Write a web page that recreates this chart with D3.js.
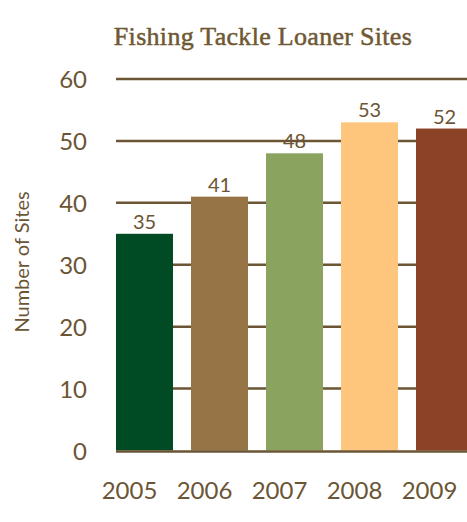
<!DOCTYPE html>
<html>
<head>
<meta charset="utf-8">
<script src="https://cdn.jsdelivr.net/npm/d3@7"></script>
<style>
  body { margin: 0; background: #fff; }
  text { fill: #6b5535; }
</style>
</head>
<body>
<div id="chart"></div>
<script>
// Data
const years = ['2005', '2006', '2007', '2008', '2009'];
const sites = [35, 41, 48, 53, 52];
const barColors = ['#004b23', '#967446', '#8aa45f', '#fec67c', '#8b4226'];
const yTicks = [0, 10, 20, 30, 40, 50, 60];

const W = 467, H = 522;
const ink = '#6b5535';

const svg = d3.select('#chart')
  .append('svg')
  .attr('width', W)
  .attr('height', H);

// Scales
const x = d3.scaleBand()
  .domain(years)
  .range([116, 473])
  .paddingInner(0.24)
  .paddingOuter(0);

const y = d3.scaleLinear()
  .domain([0, 60])
  .range([450.5, 79]);

// Title
svg.append('text')
  .attr('x', 263)
  .attr('y', 45)
  .attr('text-anchor', 'middle')
  .style('font-family', '"Liberation Serif", serif')
  .style('font-size', '26px')
  .style('fill', '#6f5833')
  .style('stroke', '#6f5833')
  .style('stroke-width', 0.5)
  .style('letter-spacing', '0.3px')
  .text('Fishing Tackle Loaner Sites');

// Gridlines
svg.append('g')
  .selectAll('line')
  .data(yTicks.filter(d => d > 0))
  .enter()
  .append('line')
  .attr('x1', 116)
  .attr('x2', W)
  .attr('y1', d => y(d))
  .attr('y2', d => y(d))
  .attr('stroke', ink)
  .attr('stroke-width', 2.5);

// Bars
svg.append('g')
  .selectAll('rect')
  .data(sites)
  .enter()
  .append('rect')
  .attr('x', (d, i) => x(years[i]))
  .attr('y', d => y(d))
  .attr('width', x.bandwidth())
  .attr('height', d => y(0) - y(d))
  .attr('fill', (d, i) => barColors[i]);

// Baseline
svg.append('line')
  .attr('x1', 116)
  .attr('x2', W)
  .attr('y1', y(0) + 1)
  .attr('y2', y(0) + 1)
  .attr('stroke', ink)
  .attr('stroke-width', 2.5);

// Value labels
svg.append('g')
  .selectAll('text')
  .data(sites)
  .enter()
  .append('text')
  .attr('x', (d, i) => x(years[i]) + x.bandwidth() / 2)
  .attr('y', d => y(d) - 5)
  .attr('text-anchor', 'middle')
  .style('font-family', 'Lato, sans-serif')
  .style('font-size', '20px')
  .text(d => d);

// Y axis labels
const yAxis = d3.axisLeft(y).tickValues(yTicks).tickSize(0).tickPadding(0);
const gy = svg.append('g')
  .attr('transform', 'translate(87,0)')
  .call(yAxis);
gy.select('.domain').remove();
gy.selectAll('text')
  .attr('dy', '0.36em')
  .style('fill', ink)
  .style('font-family', 'Lato, sans-serif')
  .style('font-size', '24px');

// X axis labels (shifted left of bar centres, as in the original)
const xAxis = d3.axisBottom(x).tickSize(0).tickPadding(0);
const gx = svg.append('g')
  .attr('transform', 'translate(-15,' + 499 + ')')
  .call(xAxis);
gx.select('.domain').remove();
gx.selectAll('text')
  .attr('dy', 0)
  .style('fill', ink)
  .style('font-family', 'Lato, sans-serif')
  .style('font-size', '24px');

// Y axis title
svg.append('text')
  .attr('transform', 'translate(29,262) rotate(-90)')
  .attr('text-anchor', 'middle')
  .style('font-family', 'Lato, sans-serif')
  .style('font-size', '20px')
  .text('Number of Sites');
</script>
</body>
</html>
